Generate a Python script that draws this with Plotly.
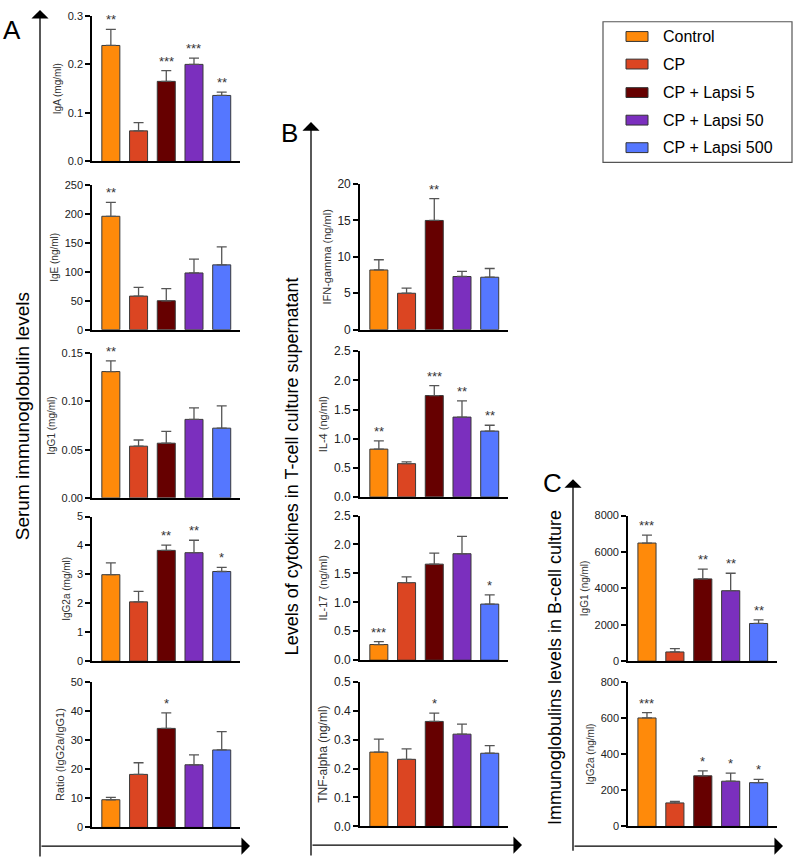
import plotly.graph_objects as go

W, H = 794, 858
FONT = "Arial, Liberation Sans, sans-serif"

groups = ["Control", "CP", "CP + Lapsi 5", "CP + Lapsi 50", "CP + Lapsi 500"]
colors = ["#FF8A0A", "#DB4522", "#660000", "#7B2FBE", "#5577FF"]

# ---- Panel A: serum immunoglobulins ----
iga_mean = [0.239, 0.063, 0.165, 0.200, 0.136]
iga_err = [0.033, 0.017, 0.022, 0.013, 0.007]
iga_sig = ["**", "", "***", "***", "**"]

ige_mean = [196, 58, 50, 98, 112]
ige_err = [24, 15, 21, 24, 31]
ige_sig = ["**", "", "", "", ""]

igg1_mean = [0.131, 0.0536, 0.0567, 0.0814, 0.0723]
igg1_err = [0.011, 0.0064, 0.0123, 0.0119, 0.0231]
igg1_sig = ["**", "", "", "", ""]

igg2a_mean = [2.99, 2.05, 3.83, 3.75, 3.10]
igg2a_err = [0.41, 0.36, 0.18, 0.43, 0.14]
igg2a_sig = ["", "", "**", "**", "*"]

ratio_mean = [9.5, 18.2, 34.0, 21.5, 26.6]
ratio_err = [0.8, 4.0, 5.3, 3.4, 6.3]
ratio_sig = ["", "", "*", "", ""]

# ---- Panel B: cytokines ----
ifn_mean = [8.2, 5.0, 15.0, 7.3, 7.2]
ifn_err = [1.4, 0.7, 3.0, 0.7, 1.2]
ifn_sig = ["", "", "**", "", ""]

il4_mean = [0.82, 0.57, 1.74, 1.37, 1.13]
il4_err = [0.14, 0.03, 0.17, 0.28, 0.10]
il4_sig = ["**", "", "***", "**", "**"]

il17_mean = [0.27, 1.34, 1.66, 1.84, 0.97]
il17_err = [0.05, 0.10, 0.19, 0.30, 0.16]
il17_sig = ["***", "", "", "", "*"]

tnf_mean = [0.257, 0.232, 0.363, 0.319, 0.253]
tnf_err = [0.045, 0.036, 0.029, 0.035, 0.026]
tnf_sig = ["", "", "*", "", ""]

# ---- Panel C: B-cell culture ----
cigg1_mean = [6490, 505, 4520, 3870, 2070]
cigg1_err = [440, 180, 540, 960, 200]
cigg1_sig = ["***", "", "**", "**", "**"]

cigg2a_mean = [600, 130, 280, 250, 242]
cigg2a_err = [30, 9, 27, 45, 18]
cigg2a_sig = ["***", "", "*", "*", "*"]


def px(x):
    return x / W


def py(y):
    return 1 - y / H


# (mean, err, sig, title, ymax, dtick, fmt, x-pixels, y-pixels(top,bottom), tickfont, titlefont)
panels = [
    (iga_mean, iga_err, iga_sig, "IgA (mg/ml)", 0.3, 0.1, ".1f", (92, 240), (9, 157), 11, 10),
    (ige_mean, ige_err, ige_sig, "IgE (ng/ml)", 250, 50, "d", (92, 240), (181, 328), 11, 10),
    (igg1_mean, igg1_err, igg1_sig, "IgG1 (mg/ml)", 0.15, 0.05, ".2f", (92, 240), (352, 499), 11, 10),
    (igg2a_mean, igg2a_err, igg2a_sig, "IgG2a (mg/ml)", 5, 1, "d", (92, 240), (518, 665), 11, 10),
    (ratio_mean, ratio_err, ratio_sig, "Ratio (IgG2a/IgG1)", 50, 10, "d", (92, 240), (686, 834), 11, 11),
    (ifn_mean, ifn_err, ifn_sig, "IFN-gamma (ng/ml)", 20, 5, "d", (360, 508), (180, 328), 12, 11),
    (il4_mean, il4_err, il4_sig, "IL-4 (ng/ml)", 2.5, 0.5, ".1f", (360, 508), (350, 498), 12, 11),
    (il17_mean, il17_err, il17_sig, "IL-17  (ng/ml)", 2.5, 0.5, ".1f", (360, 508), (517, 664), 12, 11),
    (tnf_mean, tnf_err, tnf_sig, "TNF-alpha (ng/ml)", 0.5, 0.1, ".1f", (360, 508), (686, 833), 12, 12),
    (cigg1_mean, cigg1_err, cigg1_sig, "IgG1 (ng/ml)", 8000, 2000, "d", (628, 777), (517, 665), 11, 10),
    (cigg2a_mean, cigg2a_err, cigg2a_sig, "IgG2a (ng/ml)", 800, 200, "d", (628, 777), (686, 833), 11, 10),
]

fig = go.Figure()
annotations = []
shapes = []

for i, (mean, err, sig, title, ymax, dt, fmt, xp, yp, tfs, ttfs) in enumerate(panels):
    n = i + 1
    xa = "x" if n == 1 else f"x{n}"
    ya = "y" if n == 1 else f"y{n}"
    fig.add_trace(go.Bar(
        x=list(range(len(groups))), y=mean,
        marker=dict(color=colors, line=dict(color="#3a3a3a", width=1)),
        width=0.65,
        error_y=dict(type="data", symmetric=False, array=err,
                     arrayminus=[0] * len(err), color="#555555",
                     thickness=1.3, width=5),
        xaxis=xa, yaxis=ya, showlegend=False,
        hovertext=groups,
    ))
    xkey = "xaxis" if n == 1 else f"xaxis{n}"
    ykey = "yaxis" if n == 1 else f"yaxis{n}"
    fig.layout[xkey] = dict(
        domain=[px(xp[0]), px(xp[1])], range=[-0.68, 4.66],
        showline=True, linecolor="black", linewidth=1.6,
        showticklabels=False, ticks="", showgrid=False, zeroline=False,
        anchor=ya, fixedrange=True,
    )
    tickvals = []
    v = 0.0
    while v <= ymax + 1e-9:
        tickvals.append(round(v, 6))
        v += dt
    if fmt == "d":
        ticktext = [f"{int(round(t))}" for t in tickvals]
    else:
        ticktext = [format(t, fmt) for t in tickvals]
    fig.layout[ykey] = dict(
        domain=[py(yp[1]), py(yp[0])], range=[0, ymax],
        showline=True, linecolor="black", linewidth=1.6,
        ticks="outside", ticklen=5, tickwidth=1.6, tickcolor="black",
        tickvals=tickvals, ticktext=ticktext,
        tickfont=dict(family=FONT, size=tfs, color="#222222"),
        title=dict(text=title, font=dict(family=FONT, size=ttfs, color="#333333"), standoff=4),
        showgrid=False, zeroline=False, anchor=xa, fixedrange=True,
    )
    for j, s in enumerate(sig):
        if s:
            annotations.append(dict(
                x=j, y=mean[j] + err[j], xref=xa, yref=ya, text=s,
                showarrow=False, yanchor="bottom", xanchor="center",
                font=dict(family=FONT, size=13, color="#333333"),
            ))

# big panel arrows
def arrow(tip_x, tip_y, tail_x, tail_y):
    annotations.append(dict(
        x=px(tip_x), y=py(tip_y), xref="paper", yref="paper",
        ax=tail_x - tip_x, ay=tail_y - tip_y, axref="pixel", ayref="pixel",
        text="", showarrow=True, arrowhead=1, arrowsize=2.2, arrowwidth=1.3,
        arrowcolor="black",
    ))

arrow(40, 3, 40, 853)
arrow(250, 853, 40, 853)
arrow(311, 117, 311, 852)
arrow(522, 852, 311, 852)
arrow(573, 480, 573, 853)
arrow(783, 853, 573, 853)

# panel letters
for letter, lx, ly in [("A", 12, 23), ("B", 289, 128), ("C", 552, 484)]:
    annotations.append(dict(
        x=px(lx), y=py(ly), xref="paper", yref="paper", text=letter,
        showarrow=False, xanchor="center", yanchor="middle",
        font=dict(family=FONT, size=26, color="black"),
    ))

# panel titles (rotated)
for text, tx, ty, fs in [
    ("Serum immunoglobulin levels", 22, 416, 19),
    ("Levels of cytokines in T-cell culture supernatant", 292, 467, 18),
    ("Immunoglobulins levels in B-cell culture", 555, 672, 18),
]:
    annotations.append(dict(
        x=px(tx), y=py(ty), xref="paper", yref="paper", text=text,
        showarrow=False, textangle=-90, xanchor="center", yanchor="middle",
        font=dict(family=FONT, size=fs, color="black"),
    ))

# legend
shapes.append(dict(type="rect", xref="paper", yref="paper",
                   x0=px(603), x1=px(792), y0=py(158), y1=py(15),
                   line=dict(color="#555555", width=1.2), fillcolor="white"))
leg_y = [30, 58, 87, 115, 143]
for g, c, ly in zip(groups, colors, leg_y):
    shapes.append(dict(type="rect", xref="paper", yref="paper",
                       x0=px(626), x1=px(648), y0=py(ly + 5), y1=py(ly - 5),
                       line=dict(color="#333333", width=1), fillcolor=c))
    annotations.append(dict(
        x=px(661), y=py(ly), xref="paper", yref="paper", text=g,
        showarrow=False, xanchor="left", yanchor="middle",
        font=dict(family=FONT, size=16, color="black"),
    ))

fig.update_layout(
    width=W, height=H, margin=dict(l=0, r=0, t=0, b=0),
    paper_bgcolor="white", plot_bgcolor="white",
    annotations=annotations, shapes=shapes,
    bargap=0.35, showlegend=False,
)

fig.write_html("out.html")
